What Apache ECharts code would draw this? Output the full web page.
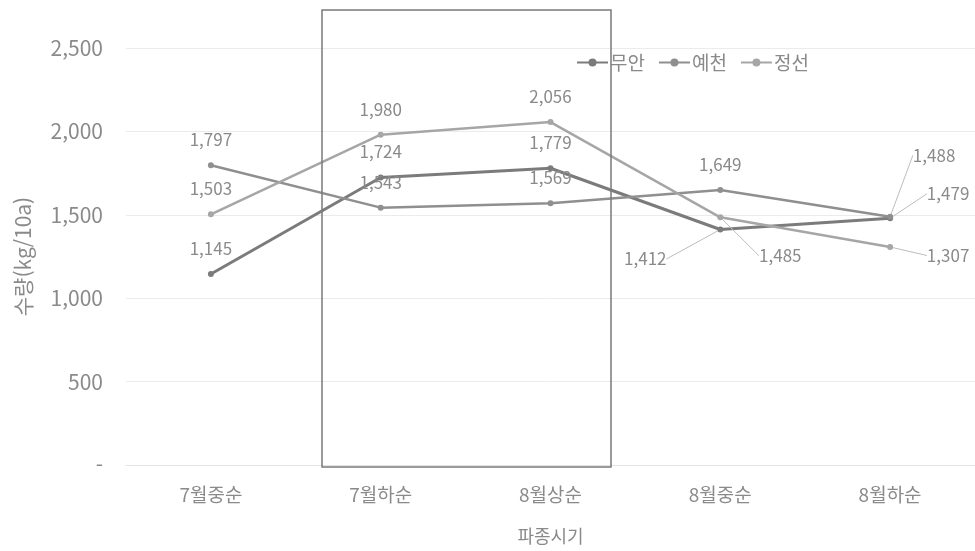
<!DOCTYPE html>
<html lang="ko">
<head>
    <meta charset="UTF-8">
    <title>파종시기별 수량</title>
    <script src="https://cdn.jsdelivr.net/npm/echarts@6/dist/echarts.min.js"></script>
    <style>
        body{ margin:0; background:#fff; }
        #chart{ width:975px; height:551px; }
    </style>
</head>
<body>
    <div id="chart"></div>
    <script>
        // 데이터
        var categories = ['7월중순', '7월하순', '8월상순', '8월중순', '8월하순']
        var seriesNames = ['무안', '예천', '정선']
        var muan = [1145, 1724, 1779, 1412, 1479]
        var yecheon = [1797, 1543, 1569, 1649, 1488]
        var jeongseon = [1503, 1980, 2056, 1485, 1307]
        var yTicks = [0, 500, 1000, 1500, 2000, 2500]

        // 라벨 이동 (기본 위치 top 기준), 이동한 라벨만 지시선 표시
        var labelShift = {
            '0-3': [-75, 55],
            '0-4': [58, 1],
            '1-4': [44, -36],
            '2-3': [60, 64],
            '2-4': [58, 34]
        }

        var fontFamily = '"Noto Sans CJK KR", "Noto Sans", sans-serif'
        var gray = '#8a8a8a'

        function makeSeries(idx, values, color, width) {
            var data = values.map(function (v, i) {
                if (labelShift[idx + '-' + i]) return { value: v, labelLine: { show: true } }
                return v
            })
            return {
                name: seriesNames[idx],
                type: 'line',
                data: data,
                symbol: 'circle',
                symbolSize: 6,
                lineStyle: { color: color, width: width },
                itemStyle: { color: color },
                label: {
                    show: true,
                    position: 'top',
                    distance: 14,
                    color: gray,
                    fontSize: 17,
                    fontFamily: fontFamily,
                    formatter: function (p) { return p.value.toLocaleString('en-US') }
                },
                labelLine: { show: false, lineStyle: { color: '#bdbdbd', width: 1 } },
                labelLayout: function (p) {
                    var s = labelShift[p.seriesIndex + '-' + p.dataIndex]
                    if (!s) return {}
                    return { dx: s[0], dy: s[1] }
                },
                z: 3
            }
        }

        var myChart = echarts.init(document.getElementById('chart'))
        var option = {
            animation: false,
            textStyle: { fontFamily: fontFamily },
            grid: { left: 126, top: 48, right: 0, bottom: 86 },
            legend: {
                data: seriesNames,
                left: 571,
                top: 48,
                itemWidth: 31,
                itemHeight: 10,
                itemGap: 13,
                textStyle: { color: gray, fontSize: 19, fontFamily: fontFamily, padding: [0, 0, 0, -3] }
            },
            xAxis: {
                type: 'category',
                data: categories,
                name: '파종시기',
                nameLocation: 'middle',
                nameGap: 62,
                nameTextStyle: { color: gray, fontSize: 18 },
                axisLine: { lineStyle: { color: '#e3e3e3' } },
                axisTick: { show: false },
                axisLabel: { color: gray, fontSize: 19, margin: 20 }
            },
            yAxis: {
                type: 'value',
                min: yTicks[0],
                max: yTicks[yTicks.length - 1],
                interval: 500,
                name: '수량(kg/10a)',
                nameLocation: 'middle',
                nameGap: 92,
                nameTextStyle: { color: gray, fontSize: 21 },
                axisLine: { show: false },
                axisTick: { show: false },
                axisLabel: {
                    color: gray,
                    fontSize: 21,
                    margin: 23,
                    formatter: function (v) { return v === 0 ? '-' : v.toLocaleString('en-US') }
                },
                splitLine: { lineStyle: { color: '#ebebeb' } }
            },
            series: [
                makeSeries(0, muan, '#7b7b7b', 3),
                makeSeries(1, yecheon, '#8f8f8f', 2.5),
                makeSeries(2, jeongseon, '#a6a6a6', 2.5)
            ],
            graphic: [{
                type: 'rect',
                shape: { x: 322, y: 10, width: 289, height: 457 },
                style: { fill: 'none', stroke: '#7a7a7a', lineWidth: 1.5 },
                z: 10
            }]
        }
        myChart.setOption(option)
    </script>
</body>
</html>
